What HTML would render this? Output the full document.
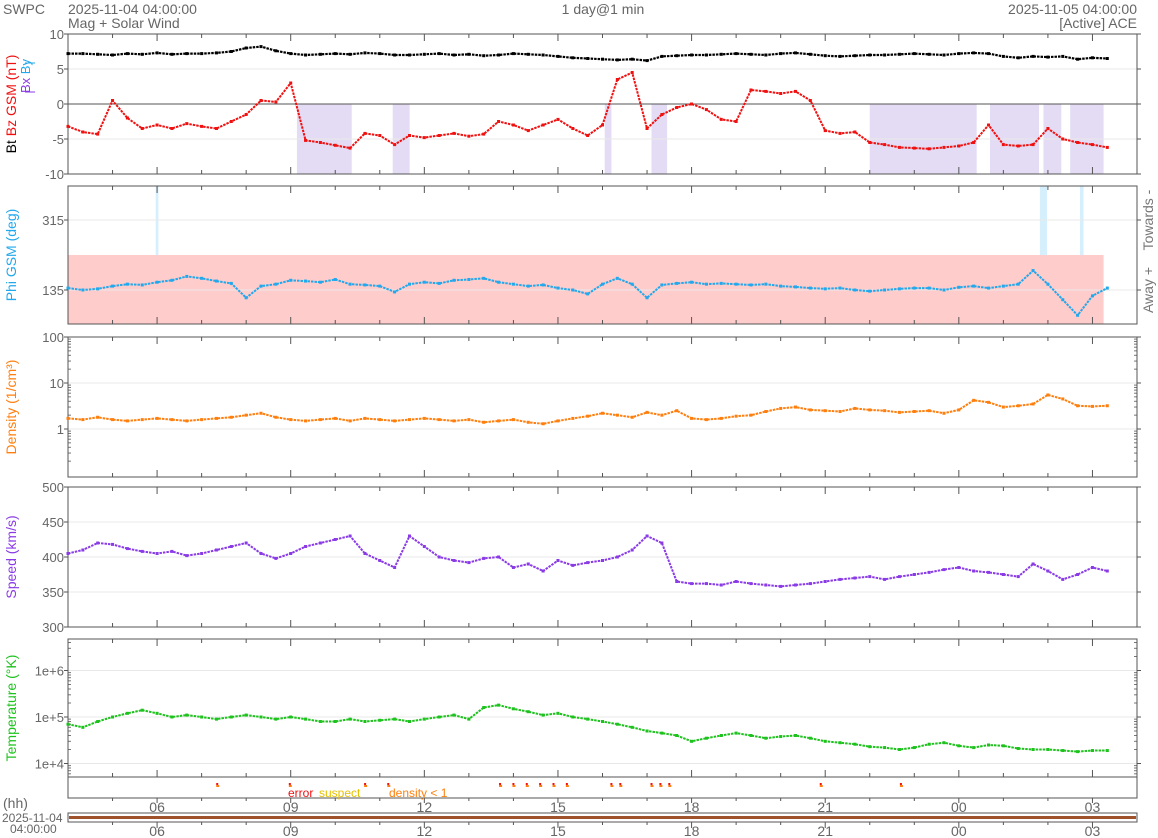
<!DOCTYPE html>
<html><head><meta charset="utf-8">
<style>
html,body{margin:0;padding:0;background:#fff;}
svg{display:block;font-family:"Liberation Sans",sans-serif;}
</style></head>
<body>
<svg id="chart" width="1158" height="838" viewBox="0 0 1158 838" xmlns="http://www.w3.org/2000/svg">
<g fill="#666" font-size="14">
<text x="3" y="14">SWPC</text>
<text x="68" y="14">2025-11-04 04:00:00</text>
<text x="68" y="28">Mag + Solar Wind</text>
<text x="603" y="14" text-anchor="middle">1 day@1 min</text>
<text x="1137" y="14" text-anchor="end">2025-11-05 04:00:00</text>
<text x="1137" y="28" text-anchor="end">[Active] ACE</text>
</g>
<g id="layer"></g>
</svg>
<script>
const hoursStep = 1/3;
const btValues = [7.2,7.2,7.1,7.0,7.2,7.1,7.3,7.1,7.2,7.2, 7.3,7.5,8.0,8.2,7.6,7.2,7.0,7.1,7.2,7.1, 7.3,7.2,7.0,7.0,7.1,7.2,7.0,7.1,6.9,7.0, 7.2,7.1,7.0,6.8,6.6,6.5,6.4,6.3,6.4,6.2, 6.8,6.9,7.0,7.0,7.1,7.2,7.1,7.0,7.2,7.3, 7.1,6.9,6.8,6.9,7.0,7.0,7.1,7.2,7.1,7.0, 7.2,7.3,7.2,6.8,6.6,6.8,6.7,6.8,6.4,6.6, 6.5];
const bzValues = [-3.2,-4,-4.3,0.5,-2,-3.5,-3,-3.5,-2.8,-3.2, -3.5,-2.5,-1.5,0.5,0.3,3,-5.2,-5.5,-5.9,-6.3, -4.2,-4.5,-5.8,-4.5,-4.8,-4.5,-4.2,-4.6,-4.3,-2.5, -3.0,-3.8,-3.0,-2.2,-3.5,-4.5,-3.0,3.5,4.5,-3.5, -1.5,-0.5,0,-0.8,-2.2,-2.5,2.0,1.8,1.5,1.8, 0.5,-3.8,-4.2,-4.0,-5.5,-5.8,-6.2,-6.3,-6.4,-6.2, -6.0,-5.5,-3.0,-5.8,-6.0,-5.8,-3.5,-5.0,-5.5,-5.8, -6.2];
const phiValues = [140,135,138,145,150,148,155,160,170,165, 158,152,115,145,150,160,158,155,162,150, 148,145,130,150,155,152,160,162,165,155, 150,145,148,140,135,125,150,165,150,115, 148,152,155,150,152,150,148,150,145,143, 140,138,140,135,132,135,138,140,140,135, 142,145,140,145,150,185,150,110,70,120, 140];
const densityValues = [1.7,1.6,1.8,1.6,1.5,1.6,1.7,1.6,1.5,1.6, 1.7,1.8,2.0,2.2,1.8,1.6,1.5,1.6,1.7,1.5, 1.7,1.6,1.5,1.6,1.7,1.6,1.5,1.6,1.4,1.5, 1.6,1.4,1.3,1.5,1.7,1.9,2.2,2.0,1.8,2.3, 2.0,2.5,1.7,1.6,1.7,1.9,2.0,2.4,2.8,3.0, 2.6,2.5,2.4,2.8,2.6,2.5,2.3,2.4,2.5,2.2, 2.6,4.2,3.8,3.0,3.2,3.5,5.5,4.5,3.2,3.1, 3.2];
const speedValues = [405,410,420,418,412,408,405,408,402,405, 410,415,420,405,398,405,415,420,425,430, 405,395,385,430,415,400,395,392,398,400, 385,390,380,395,388,392,395,400,410,430, 420,365,362,362,360,365,362,360,358,360, 362,365,368,370,372,368,372,375,378,382, 385,380,378,375,372,390,380,368,375,385, 380];
const tempValues = [7e4,6e4,8e4,1.0e5,1.2e5,1.4e5,1.2e5,1.0e5,1.1e5,1.0e5, 9e4,1.0e5,1.1e5,1.0e5,9e4,1.0e5,9e4,8e4,8e4,9e4, 8e4,8.5e4,9e4,8e4,9e4,1.0e5,1.1e5,9e4,1.6e5,1.8e5, 1.5e5,1.3e5,1.1e5,1.2e5,1.0e5,9e4,8e4,7e4,6e4,5e4, 4.5e4,4e4,3e4,3.5e4,4e4,4.5e4,4e4,3.5e4,3.8e4,4e4, 3.5e4,3e4,2.8e4,2.6e4,2.3e4,2.2e4,2.0e4,2.2e4,2.6e4,2.8e4, 2.4e4,2.2e4,2.5e4,2.4e4,2.1e4,2.0e4,2.0e4,1.9e4,1.8e4,1.9e4, 1.9e4];
const bzNegBands = [[5.14,6.37],[7.29,7.67],[12.05,12.2],[13.1,13.45],[18.0,20.4],[20.7,21.8],[21.9,22.3],[22.5,23.25]];
const phiTowardBands = [[1.97,2.03],[21.82,21.98],[22.72,22.8]];
const flagHours = [3.35,4.98,6.67,7.19,9.7,10,10.3,10.6,10.9,11.2,12.2,12.4,13.1,13.3,13.5,16.9,18.7];
const hourLabels = ["06","09","12","15","18","21","00","03"];
const hourLabelOffsets = [2,5,8,11,14,17,20,23];

const NS = "http://www.w3.org/2000/svg";
const L = document.getElementById('layer');
const X0 = 68, X1 = 1137;
const xh = h => X0 + h * (X1 - X0) / 24;
function el(tag, attrs, parent) {
  const e = document.createElementNS(NS, tag);
  for (const k in attrs) e.setAttribute(k, attrs[k]);
  (parent || L).appendChild(e);
  return e;
}
const yMag = v => 104 - v * 7;
const yPhi = v => 290 - (v - 135) * 70 / 180;
const yDen = v => 429 - Math.log10(v) * 46;
const ySpd = v => 557 - (v - 400) * 0.7;
const yTmp = v => 717 - (Math.log10(v) - 5) * 46.5;

const panels = [
  {name:'mag-panel', top:34, bot:174},
  {name:'phi-panel', top:186, bot:324},
  {name:'density-panel', top:337, bot:477},
  {name:'speed-panel', top:487, bot:627},
  {name:'temperature-panel', top:639, bot:777}
];

bzNegBands.forEach(b => {
  const r = el('rect', {x:xh(b[0]), y:104, width:xh(b[1])-xh(b[0]), height:70, fill:'#e3dcf4'});
  
  
});
{
  const r = el('rect', {x:X0, y:255, width:xh(23.25)-X0, height:69, fill:'#ffcccc'});
  
  
}
phiTowardBands.forEach(b => {
  const r = el('rect', {x:xh(b[0]), y:186, width:xh(b[1])-xh(b[0]), height:69, fill:'#d6effc'});
  
  
});

function ytick(y, label, name) {
  el('line', {x1:X0, x2:X1, y1:y, y2:y, stroke:'#e8e8e8'});
  el('line', {x1:X0-4, x2:X0, y1:y, y2:y, stroke:'#555'});
  el('line', {x1:X1, x2:X1+4, y1:y, y2:y, stroke:'#555'});
  if (label !== null) {
    const t = el('text', {x:X0-4, y:y+5, 'text-anchor':'end', 'font-size':13, fill:'#666'});
    t.textContent = label;
    
    
  }
}
[10,5,0,-5,-10].forEach(v => ytick(yMag(v), String(v), 'mag-y-tick'));
el('line', {x1:X0, x2:X1, y1:yMag(0), y2:yMag(0), stroke:'#555'});
[315,135].forEach(v => ytick(yPhi(v), String(v), 'phi-y-tick'));
[100,10,1].forEach(v => ytick(yDen(v), String(v), 'density-y-tick'));
[500,450,400,350,300].forEach(v => ytick(ySpd(v), String(v), 'speed-y-tick'));
[1e6,1e5,1e4].forEach(v => ytick(yTmp(v), '1e+' + Math.round(Math.log10(v)), 'temp-y-tick'));
function minor(yf, lo, hi, top, bot) {
  for (let d = lo; d < hi; d++) for (let m = 2; m <= 9; m++) {
    const y = yf(m * Math.pow(10, d));
    if (y < top || y > bot) continue;
    el('line', {x1:X0, x2:X0+3, y1:y, y2:y, stroke:'#777'});
    el('line', {x1:X1-3, x2:X1, y1:y, y2:y, stroke:'#777'});
  }
}
minor(yDen, -1, 2, 337, 477);
minor(yTmp, 3, 7, 639, 775);

panels.forEach(p => {
  const r = el('rect', {x:X0, y:p.top, width:X1-X0, height:p.bot-p.top, fill:'none', stroke:'#555'});
  
  
  for (let h = 1; h < 24; h++) {
    const len = (h + 1) % 3 === 0 ? 7 : 4;
    el('line', {x1:xh(h), x2:xh(h), y1:p.bot, y2:p.bot-len, stroke:'#555'});
    el('line', {x1:xh(h), x2:xh(h), y1:p.top, y2:p.top+len, stroke:'#555'});
  }
});
{
  const fp = el('rect', {x:X0, y:777, width:X1-X0, height:21, fill:'none', stroke:'#555'});
  
  
  for (let h = 1; h < 24; h++) {
    const len = (h + 1) % 3 === 0 ? 5 : 3;
    el('line', {x1:xh(h), x2:xh(h), y1:798, y2:798+len, stroke:'#555'});
  }
}

function series(vals, yf, color, name, w) {
  const pts = vals.map((v, i) => xh(i * hoursStep).toFixed(1) + ',' + yf(v).toFixed(1)).join(' ');
  const pl = el('polyline', {points:pts, fill:'none', stroke:color, 'stroke-width':w, 'stroke-linejoin':'round', 'stroke-dasharray':'2.5 1'});
  
  
  vals.forEach((v, i) => {
    const c = el('rect', {x:xh(i * hoursStep)-1.5, y:yf(v)-1.5, width:3, height:3, fill:color});
    
    
  });
}
series(btValues, yMag, '#000', 'bt', 2.2);
series(bzValues, yMag, '#f01010', 'bz', 2);
series(phiValues, yPhi, '#22a8ec', 'phi', 2);
series(densityValues, yDen, '#ff7f0e', 'density', 2);
series(speedValues, ySpd, '#8a3be6', 'speed', 2);
series(tempValues, yTmp, '#1dc21d', 'temperature', 2);

flagHours.forEach(h => {
  const r1 = el('rect', {x:xh(h)-1, y:783, width:2, height:2, fill:'#f01010'});
  
  
  const r2 = el('rect', {x:xh(h)-1, y:785, width:3, height:2, fill:'#ff7f0e'});
  
  
});
[['error','#f01010',288,'legend-error'],['suspect','#e6c000',319,'legend-suspect'],['density < 1','#ff7f0e',389,'legend-density']].forEach(d => {
  const t = el('text', {x:d[2], y:797, 'font-size':12, fill:d[1]});
  t.textContent = d[0];
  
  
});

hourLabels.forEach((lab, i) => {
  const t = el('text', {x:xh(hourLabelOffsets[i]), y:812, 'text-anchor':'middle', 'font-size':14, fill:'#666'});
  t.textContent = lab;
  
  
  const t2 = el('text', {x:xh(hourLabelOffsets[i]), y:836, 'text-anchor':'middle', 'font-size':14, fill:'#666'});
  t2.textContent = lab;
  
  
});
{
  const r = el('rect', {x:X0, y:813, width:X1-X0, height:9, fill:'none', stroke:'#555'});
  
  
  const b = el('rect', {x:X0+1, y:816, width:X1-X0-2, height:3, fill:'#a0522d'});
  
  
  for (let h = 1; h < 24; h++) {
    const len = (h + 1) % 3 === 0 ? 6 : 3;
    el('line', {x1:xh(h), x2:xh(h), y1:822, y2:822+len, stroke:'#555'});
  }
}
[['(hh)',3,808,'x-axis-unit',14],['2025-11-04',2,822,'timeline-date',12],['04:00:00',10,833,'timeline-time',12]].forEach(d => {
  const t = el('text', {x:d[1], y:d[2], 'font-size':d[4], fill:'#666'});
  t.textContent = d[0];
  
  
});

function vtext(x, y, parts, name, size) {
  const t = el('text', {x:x, y:y, transform:'rotate(-90 ' + x + ' ' + y + ')', 'text-anchor':'middle', 'font-size':size || 14});
  parts.forEach(p => {
    const s = el('tspan', {fill:p[1]}, t);
    s.textContent = p[0];
  });
  
  
}
vtext(16, 104, [['Bt   ','#000'],['Bz GSM (nT)','#f01010']], 'mag-y-title');
vtext(30, 76, [['Bx ','#8a3be6'],['By','#22a8ec']], 'bx-by-legend', 13);
el('line', {x1:25, x2:35, y1:92, y2:92, stroke:'#8a3be6'});
el('line', {x1:25, x2:35, y1:63, y2:63, stroke:'#22a8ec'});
vtext(16, 255, [['Phi GSM (deg)','#22a8ec']], 'phi-y-title');
vtext(16, 407, [['Density (1/cm³)','#ff7f0e']], 'density-y-title');
vtext(16, 557, [['Speed (km/s)','#8a3be6']], 'speed-y-title');
vtext(16, 708, [['Temperature (°K)','#1dc21d']], 'temperature-y-title');
vtext(1153, 220, [['Towards -','#777']], 'towards-label');
vtext(1153, 290, [['Away +','#777']], 'away-label');
</script>
</body></html>
